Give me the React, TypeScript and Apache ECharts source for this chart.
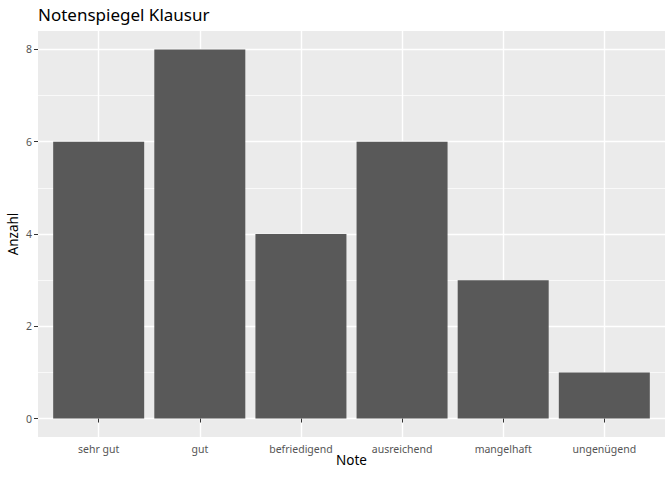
import React, { useEffect, useRef } from "react";
import * as echarts from "echarts";

const categories = ["sehr gut", "gut", "befriedigend", "ausreichend", "mangelhaft", "ungenügend"];
const counts = [6, 8, 4, 6, 3, 1];
const yMajorTicks = [0, 2, 4, 6, 8];
const yMinorTicks = [1, 3, 5, 7];
const chartTitle = "Notenspiegel Klausur";
const xTitle = "Note";
const yTitle = "Anzahl";

const FONT = "Noto Sans";

export default function App() {
  const ref = useRef<HTMLDivElement>(null);
  useEffect(() => {
    if (!ref.current) return;
    const chart = echarts.init(ref.current, null, { renderer: "svg" });
    const xPositions = categories.map((_, i) => i + 1);
    chart.setOption({
      animation: false,
      backgroundColor: "#FFFFFF",
      textStyle: { fontFamily: FONT },
      title: {
        text: chartTitle,
        left: 33,
        top: 1,
        textStyle: { fontFamily: FONT, fontSize: 17, fontWeight: "normal", color: "#000000" },
      },
      grid: [
        {
          left: 38,
          right: 7,
          top: 31,
          bottom: 43,
          show: true,
          backgroundColor: "#EBEBEB",
          borderWidth: 0,
          containLabel: false,
          outerBoundsMode: "none",
        },
      ],
      xAxis: [
        {
          type: "value",
          min: 0.4,
          max: 6.6,
          axisLine: { show: false },
          axisTick: { show: true, length: 4, lineStyle: { color: "#333333", width: 1 }, customValues: xPositions },
          axisLabel: {
            customValues: xPositions,
            formatter: (v: number) => categories[Math.round(v) - 1] ?? "",
            color: "#555555",
            fontSize: 10.5,
            fontFamily: FONT,
            margin: 6,
          },
          splitLine: { show: true, lineStyle: { color: "#FFFFFF", width: 1.4 } },
          name: xTitle,
          nameLocation: "middle",
          nameGap: 16,
          nameMoveOverlap: false,
          nameTextStyle: { fontFamily: FONT, fontSize: 13.5, color: "#000000" },
        },
      ],
      yAxis: [
        {
          type: "value",
          min: -0.4,
          max: 8.4,
          position: "left",
          axisLine: { show: false },
          axisTick: { show: true, length: 4, lineStyle: { color: "#333333", width: 1 }, customValues: yMajorTicks },
          axisLabel: { customValues: yMajorTicks, color: "#555555", fontSize: 10.5, fontFamily: FONT, margin: 6 },
          splitLine: { show: true, lineStyle: { color: "#FFFFFF", width: 1.4 } },
          name: yTitle,
          nameLocation: "middle",
          nameRotate: 90,
          nameGap: 18,
          nameMoveOverlap: false,
          nameTextStyle: { fontFamily: FONT, fontSize: 13.5, color: "#000000" },
        },
        {
          type: "value",
          min: -0.4,
          max: 8.4,
          position: "left",
          axisLine: { show: false },
          axisTick: { show: false, customValues: yMinorTicks },
          axisLabel: { show: false, customValues: yMinorTicks },
          splitLine: { show: true, lineStyle: { color: "#FFFFFF", width: 0.7 } },
        },
      ],
      series: [
        {
          type: "bar",
          xAxisIndex: 0,
          yAxisIndex: 0,
          barWidth: 91,
          itemStyle: { color: "#595959" },
          data: counts.map((c, i) => [xPositions[i], c]),
        },
      ],
    });
    return () => chart.dispose();
  }, []);
  return <div ref={ref} style={{ position: "fixed", left: 0, top: 0, width: 672, height: 480 }} />;
}
